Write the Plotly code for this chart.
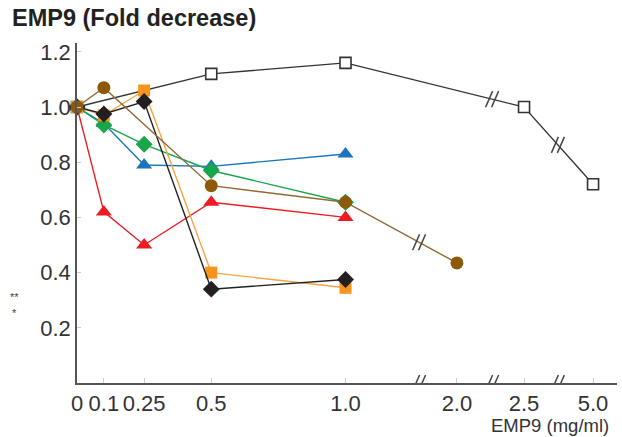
import plotly.graph_objects as go

# ---- data ----
tick_values = [0, 0.1, 0.25, 0.5, 1.0, 2.0, 2.5, 5.0]
tick_labels = ["0", "0.1", "0.25", "0.5", "1.0", "2.0", "2.5", "5.0"]

open_sq_x = [0, 0.5, 1.0, 2.5, 5.0]
open_sq_y = [1.0, 1.12, 1.16, 1.0, 0.72]

orange_x = [0, 0.1, 0.25, 0.5, 1.0]
orange_y = [1.0, 0.97, 1.06, 0.40, 0.345]

black_x = [0, 0.1, 0.25, 0.5, 1.0]
black_y = [1.0, 0.975, 1.02, 0.34, 0.375]

brown_x = [0, 0.1, 0.5, 1.0, 2.0]
brown_y = [1.0, 1.07, 0.715, 0.655, 0.435]

blue_x = [0, 0.1, 0.25, 0.5, 1.0]
blue_y = [1.0, 0.94, 0.79, 0.785, 0.83]

green_x = [0, 0.1, 0.25, 0.5, 1.0]
green_y = [1.0, 0.935, 0.865, 0.77, 0.655]

red_x = [0, 0.1, 0.25, 0.5, 1.0]
red_y = [1.0, 0.62, 0.50, 0.655, 0.60]

# broken x scale: linear up to 1.0, then compressed segments after breaks
seg_pos = {2.0: 1.415, 2.5: 1.665, 5.0: 1.922}
break_pos = [1.274, 1.546, 1.791]


def sx(v):
    return v if v <= 1.0 else seg_pos[v]


FONT = "Liberation Sans, Arial, sans-serif"
fig = go.Figure()


def add(xs, ys, color, line_color, symbol, size, fill=None, lw=1.4):
    fig.add_trace(go.Scatter(
        x=[sx(v) for v in xs], y=ys, mode="lines+markers",
        line=dict(color=line_color, width=lw),
        marker=dict(symbol=symbol, size=size, color=fill or color,
                    line=dict(color=color, width=1.6 if fill else 0)),
        showlegend=False, cliponaxis=False))


add(open_sq_x, open_sq_y, "#333333", "#333333", "square", 11, fill="white", lw=1.3)
add(red_x, red_y, "#ED1C24", "#ED1C24", "triangle-up", 14)
add(blue_x, blue_y, "#1C75BC", "#1C75BC", "triangle-up", 14)
add(green_x, green_y, "#19A54A", "#19A54A", "diamond", 13)
add(orange_x, orange_y, "#F7941D", "#F5A545", "square", 12)
add(black_x, black_y, "#231F20", "#231F20", "diamond", 13)
add(brown_x, brown_y, "#8C5A0A", "#8E6A35", "circle", 13)


def interp(xs, ys, xb):
    px = [sx(v) for v in xs]
    for i in range(len(px) - 1):
        if px[i] <= xb <= px[i + 1]:
            t = (xb - px[i]) / (px[i + 1] - px[i])
            return ys[i] + t * (ys[i + 1] - ys[i])
    return None


def slashes(xb, yb, color):
    for dx in (-3, 3):
        fig.add_shape(type="line", xref="x", yref="y",
                      xsizemode="pixel", ysizemode="pixel",
                      xanchor=xb, yanchor=yb,
                      x0=dx - 3.5, x1=dx + 3.5, y0=-8, y1=8,
                      line=dict(color=color, width=1.5))


# break marks on axis
for b in break_pos:
    slashes(b, 0, "#444444")
# break marks on lines crossing the breaks
slashes(break_pos[0], interp(brown_x, brown_y, break_pos[0]), "#444444")
slashes(break_pos[1], interp(open_sq_x, open_sq_y, break_pos[1]), "#444444")
slashes(break_pos[2], interp(open_sq_x, open_sq_y, break_pos[2]), "#444444")

fig.update_xaxes(
    range=[0, 540 / 268.5], tickvals=[sx(v) for v in tick_values], ticktext=tick_labels,
    showline=True, linecolor="#555555", linewidth=1.5, showgrid=False, zeroline=False,
    ticks="inside", ticklen=5, tickcolor="#cccccc", tickwidth=1,
    tickfont=dict(family=FONT, size=22, color="#333333"))
fig.update_yaxes(
    range=[0, 1.232], tickvals=[0.2, 0.4, 0.6, 0.8, 1.0, 1.2],
    ticktext=["0.2", "0.4", "0.6", "0.8", "1.0", "1.2"],
    showline=True, linecolor="#555555", linewidth=1.5, showgrid=False, zeroline=False,
    ticks="inside", ticklen=4, tickcolor="#cccccc", tickwidth=1,
    tickfont=dict(family=FONT, size=22, color="#333333"))

fig.add_annotation(text="<b>EMP9 (Fold decrease)</b>", xref="paper", yref="paper",
                   x=(10 - 77) / 540, y=(383 - 3) / 340, xanchor="left", yanchor="top",
                   showarrow=False, font=dict(family=FONT, size=23.5, color="#222222"))
fig.add_annotation(text="EMP9 (mg/ml)", xref="paper", yref="paper",
                   x=(611 - 77) / 540, y=(383 - 425) / 340, xanchor="right", yanchor="middle",
                   showarrow=False, font=dict(family=FONT, size=18.5, color="#333333"))
fig.add_annotation(text="**", xref="paper", yref="paper",
                   x=(14 - 77) / 540, y=(383 - 297) / 340, xanchor="center", yanchor="middle",
                   showarrow=False, font=dict(family=FONT, size=11, color="#444444"))
fig.add_annotation(text="*", xref="paper", yref="paper",
                   x=(14 - 77) / 540, y=(383 - 313) / 340, xanchor="center", yanchor="middle",
                   showarrow=False, font=dict(family=FONT, size=11, color="#444444"))

fig.update_layout(
    width=622, height=437, margin=dict(l=77, r=5, t=43, b=54),
    paper_bgcolor="white", plot_bgcolor="white", showlegend=False)

fig.write_html("out.html")
